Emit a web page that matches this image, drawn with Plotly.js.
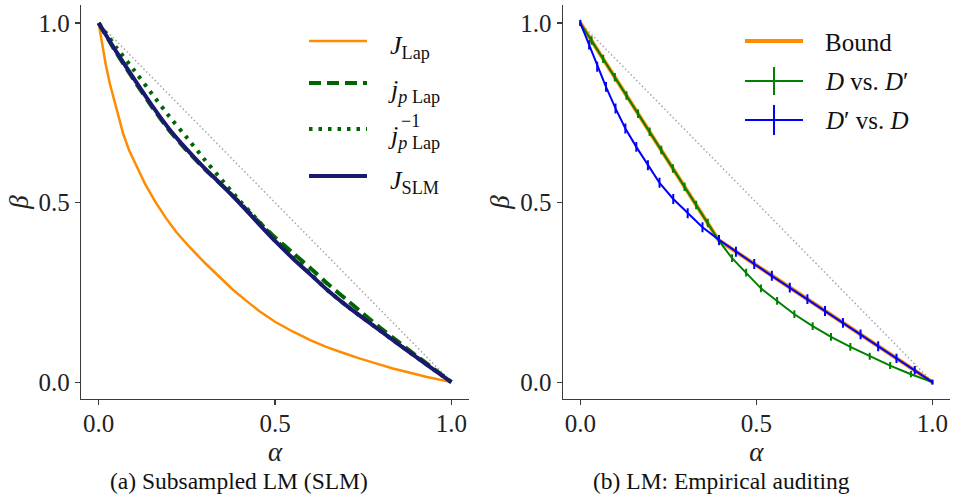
<!DOCTYPE html>
<html>
<head>
<meta charset="utf-8">
<script src="https://cdn.plot.ly/plotly-3.0.1.min.js"></script>
<style>html,body{margin:0;padding:0;background:#fff;}</style>
</head>
<body>
<div id="chart" style="width:953px;height:496px;"></div>
<script>
// ---------- data: panel (a) ----------
const diagAlpha = [0, 1];
const diagBeta = [1, 0];

const alphaJLap = [0, 0.01, 0.02, 0.032, 0.045, 0.056, 0.07, 0.087, 0.11, 0.132, 0.16, 0.19, 0.22, 0.257, 0.3, 0.342, 0.38, 0.418, 0.455, 0.5, 0.55, 0.6, 0.645, 0.7, 0.739, 0.8, 0.834, 0.9, 0.928, 1];
const betaJLap = [1, 0.94, 0.885, 0.83, 0.78, 0.737, 0.69, 0.644, 0.595, 0.551, 0.503, 0.458, 0.418, 0.377, 0.333, 0.293, 0.258, 0.227, 0.198, 0.168, 0.141, 0.117, 0.098, 0.079, 0.066, 0.048, 0.038, 0.022, 0.015, 0];

const alphaGrid = [0, 0.05, 0.1, 0.15, 0.2, 0.25, 0.3, 0.35, 0.4, 0.45, 0.5, 0.55, 0.6, 0.65, 0.7, 0.75, 0.8, 0.85, 0.9, 0.95, 1];
const betaJpLap = [1, 0.917, 0.841, 0.768, 0.701, 0.645, 0.594, 0.548, 0.5, 0.45, 0.403, 0.36, 0.318, 0.273, 0.232, 0.19, 0.15, 0.112, 0.074, 0.037, 0];
const betaJpLapInv = [1, 0.932, 0.869, 0.804, 0.74, 0.681, 0.62, 0.562, 0.505, 0.452, 0.398, 0.349, 0.302, 0.255, 0.215, 0.178, 0.142, 0.106, 0.07, 0.035, 0];
const betaJSLM = [1, 0.92, 0.845, 0.772, 0.705, 0.648, 0.596, 0.548, 0.498, 0.445, 0.393, 0.345, 0.3, 0.255, 0.215, 0.178, 0.142, 0.106, 0.07, 0.035, 0];

// ---------- data: panel (b) ----------
const alphaBound = [0, 0.393, 1];
const betaBound = [1, 0.395, 0];

const alphaDvsDp = [0, 0.032, 0.065, 0.098, 0.131, 0.164, 0.197, 0.23, 0.263, 0.296, 0.329, 0.362, 0.394, 0.431, 0.471, 0.513, 0.559, 0.608, 0.66, 0.712, 0.767, 0.822, 0.88, 0.939, 1.0];
const betaDvsDp = [1, 0.951, 0.9, 0.849, 0.798, 0.747, 0.697, 0.646, 0.595, 0.544, 0.493, 0.443, 0.393, 0.345, 0.305, 0.261, 0.226, 0.189, 0.156, 0.126, 0.098, 0.072, 0.046, 0.022, 0];
const errDvsDp = [0.006, 0.009, 0.009, 0.009, 0.009, 0.009, 0.009, 0.009, 0.009, 0.009, 0.009, 0.009, 0.009, 0.008, 0.008, 0.008, 0.008, 0.008, 0.008, 0.008, 0.008, 0.007, 0.007, 0.006, 0.004];

const alphaDpvsD = [0, 0.025, 0.048, 0.073, 0.1, 0.128, 0.159, 0.192, 0.225, 0.264, 0.305, 0.347, 0.394, 0.442, 0.494, 0.544, 0.595, 0.645, 0.695, 0.746, 0.796, 0.846, 0.898, 0.95, 1.0];
const betaDpvsD = [1, 0.939, 0.878, 0.822, 0.762, 0.706, 0.655, 0.604, 0.555, 0.51, 0.47, 0.431, 0.396, 0.363, 0.329, 0.296, 0.263, 0.231, 0.198, 0.165, 0.133, 0.1, 0.066, 0.033, 0];
const errDpvsD = [0.005, 0.01, 0.011, 0.011, 0.011, 0.011, 0.011, 0.011, 0.011, 0.011, 0.011, 0.011, 0.011, 0.011, 0.011, 0.011, 0.011, 0.011, 0.011, 0.011, 0.011, 0.011, 0.01, 0.009, 0.004];

// ---------- labels ----------
const tickVals = [0, 0.5, 1];
const tickText = ['0.0', '0.5', '1.0'];
const captionA = '(a) Subsampled LM (SLM)';
const captionB = '(b) LM: Empirical auditing';

// ---------- geometry helpers (figure pixels -> paper coords) ----------
const W = 953, H = 496;
const M = {l: 81, r: 3, t: 5, b: 97};
const PW = W - M.l - M.r, PH = H - M.t - M.b;
const px = p => (p - M.l) / PW;
const py = p => (H - M.b - p) / PH;

const serif = '"Liberation Serif", "DejaVu Serif", serif';
const axColor = '#3a3a3a';

function xAxis(domain, anchor) {
  return {
    domain: domain, anchor: anchor, range: [-0.05, 1.05],
    tickvals: tickVals, ticktext: tickText,
    showline: true, linecolor: axColor, linewidth: 1.2, mirror: false,
    ticks: 'outside', ticklen: 5, tickwidth: 1.2, tickcolor: axColor,
    ticklabelstandoff: -3,
    showgrid: false, zeroline: false,
    tickfont: {family: serif, size: 25, color: '#222'},
    title: {text: '<i>α</i>', font: {family: serif, size: 27, color: '#222'}, standoff: 2},
    automargin: false
  };
}
function yAxis(anchor) {
  return {
    domain: [0, 1], anchor: anchor, range: [-0.047, 1.05],
    tickvals: tickVals, ticktext: tickText,
    showline: true, linecolor: axColor, linewidth: 1.2, mirror: false,
    ticks: 'outside', ticklen: 5, tickwidth: 1.2, tickcolor: axColor,
    showgrid: false, zeroline: false,
    tickfont: {family: serif, size: 25, color: '#222'},
    title: {text: '<i>β</i>', font: {family: serif, size: 27, color: '#222'}, standoff: 2},
    automargin: false
  };
}

const diagStyle = {color: 'rgba(150,150,150,0.85)', width: 1.5, dash: '1.5px,2.5px'};
const cOrange = '#ff8c00', cDkGreen = '#006400', cNavy = '#191970', cGreen = '#008000', cBlue = '#0000ff';

const traces = [
  {x: diagAlpha, y: diagBeta, xaxis: 'x', yaxis: 'y', mode: 'lines', line: diagStyle, hoverinfo: 'skip'},
  {x: alphaJLap, y: betaJLap, xaxis: 'x', yaxis: 'y', mode: 'lines', name: 'J_Lap', line: {color: cOrange, width: 2.5}},
  {x: alphaGrid, y: betaJpLap, xaxis: 'x', yaxis: 'y', mode: 'lines', name: 'j_p Lap', line: {color: cDkGreen, width: 4, dash: '12px,6px', shape: 'spline', smoothing: 0.5}},
  {x: alphaGrid, y: betaJpLapInv, xaxis: 'x', yaxis: 'y', mode: 'lines', name: 'j_p^-1 Lap', line: {color: cDkGreen, width: 4, dash: '3.5px,6px', shape: 'spline', smoothing: 0.5}},
  {x: alphaGrid, y: betaJSLM, xaxis: 'x', yaxis: 'y', mode: 'lines', name: 'J_SLM', line: {color: cNavy, width: 4, shape: 'spline', smoothing: 0.5}},

  {x: diagAlpha, y: diagBeta, xaxis: 'x2', yaxis: 'y2', mode: 'lines', line: diagStyle, hoverinfo: 'skip'},
  {x: alphaBound, y: betaBound, xaxis: 'x2', yaxis: 'y2', mode: 'lines', name: 'Bound', line: {color: cOrange, width: 4}},
  {x: alphaDvsDp, y: betaDvsDp, xaxis: 'x2', yaxis: 'y2', mode: 'lines', name: 'D vs. D′', line: {color: cGreen, width: 2},
   error_y: {type: 'data', array: errDvsDp, visible: true, color: cGreen, thickness: 2, width: 1}},
  {x: alphaDpvsD, y: betaDpvsD, xaxis: 'x2', yaxis: 'y2', mode: 'lines', name: 'D′ vs. D', line: {color: cBlue, width: 2},
   error_y: {type: 'data', array: errDpvsD, visible: true, color: cBlue, thickness: 2, width: 1}}
];

// ---------- hand-drawn legends (legend samples longer than plotly's) ----------
const shapes = [];
const annotations = [];
function legLine(x0, x1, y, line) {
  shapes.push({type: 'line', xref: 'paper', yref: 'paper', x0: px(x0), x1: px(x1), y0: py(y), y1: py(y), line: line});
}
function legText(x, y, text, size, extra) {
  annotations.push(Object.assign({xref: 'paper', yref: 'paper', x: px(x), y: py(y), xanchor: 'left', yanchor: 'middle',
    text: text, showarrow: false, font: {family: serif, size: size, color: '#111'}}, extra || {}));
}
// panel (a)
legLine(309, 367, 41, {color: cOrange, width: 2.5});
legText(388, 47, '<i>J</i><sub>Lap</sub>', 26);
legLine(309, 367, 83, {color: cDkGreen, width: 4, dash: '12px,6px'});
legText(386, 91, '<i>j</i><sub><i>p</i> Lap</sub>', 26);
legLine(309, 367, 129, {color: cDkGreen, width: 4, dash: '3.5px,6px'});
legText(386, 137, '<i>j</i><sub><i>p</i> Lap</sub>', 26);
legText(399, 121, '−1', 18);
legLine(309, 367, 176, {color: cNavy, width: 4});
legText(388, 182, '<i>J</i><sub>SLM</sub>', 26);
// panel (b)
legLine(745, 803, 41, {color: cOrange, width: 4});
legText(823, 42, 'Bound', 25);
legLine(745, 803, 81, {color: cGreen, width: 2});
shapes.push({type: 'line', xref: 'paper', yref: 'paper', x0: px(774), x1: px(774), y0: py(67), y1: py(95), line: {color: cGreen, width: 2}});
legText(823, 81, '<i>D</i> vs. <i>D</i>′', 25);
legLine(745, 803, 120, {color: cBlue, width: 2});
shapes.push({type: 'line', xref: 'paper', yref: 'paper', x0: px(774), x1: px(774), y0: py(105), y1: py(135), line: {color: cBlue, width: 2}});
legText(823, 120, '<i>D</i>′ vs. <i>D</i>', 25);

// captions
annotations.push({xref: 'paper', yref: 'paper', x: px(238.5), y: py(481), xanchor: 'center', yanchor: 'middle',
  text: captionA, showarrow: false, font: {family: serif, size: 23.5, color: '#111'}});
annotations.push({xref: 'paper', yref: 'paper', x: px(721.7), y: py(481), xanchor: 'center', yanchor: 'middle',
  text: captionB, showarrow: false, font: {family: serif, size: 23.5, color: '#111'}});

const layout = {
  width: W, height: H, margin: M,
  paper_bgcolor: '#fff', plot_bgcolor: '#fff',
  showlegend: false,
  font: {family: serif},
  xaxis: xAxis([0, (469 - M.l) / PW], 'y'),
  yaxis: yAxis('x'),
  xaxis2: xAxis([(562.7 - M.l) / PW, 1], 'y2'),
  yaxis2: yAxis('x2'),
  shapes: shapes,
  annotations: annotations
};

Plotly.newPlot('chart', traces, layout, {displayModeBar: false, staticPlot: true});
</script>
</body>
</html>
